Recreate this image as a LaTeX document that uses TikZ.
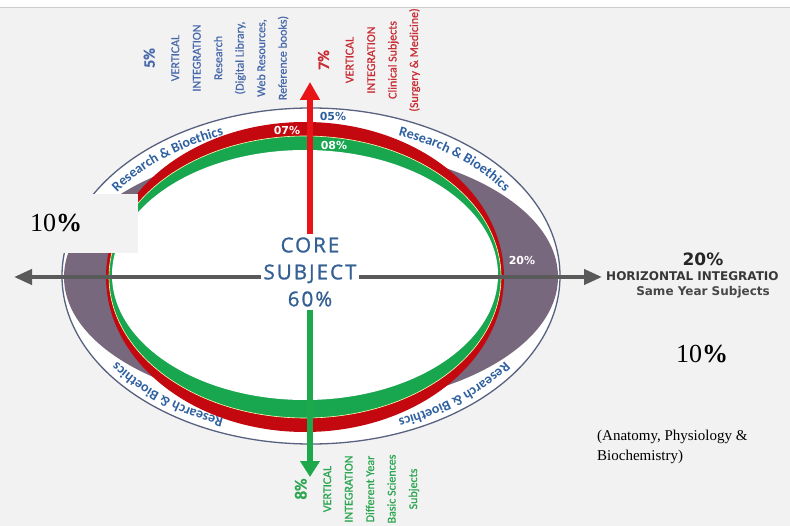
\documentclass[tikz,border=0pt]{standalone}
\usepackage{fontspec}
\setmainfont{Liberation Serif}
\newfontfamily\calfont{Carlito}
\newfontfamily\labfont[FakeBold=0.6]{Carlito}
\newfontfamily\verfont{DejaVu Sans}
\newfontfamily\corefont[LetterSpace=10, FakeBold=1.3]{Open Sans}
\usetikzlibrary{positioning, arrows.meta, decorations.text}
\definecolor{BgGray}{RGB}{242,242,242}
\definecolor{RimColor}{RGB}{88,98,128}
\definecolor{CrescentColor}{RGB}{120,104,125}
\definecolor{RedRing}{RGB}{196,8,16}
\definecolor{GreenRing}{RGB}{24,166,78}
\definecolor{BandBlue}{RGB}{46,96,160}
\definecolor{CoreBlue}{RGB}{52,96,148}
\definecolor{AxisGray}{RGB}{90,90,90}
\definecolor{RedArrow}{RGB}{232,20,24}
\definecolor{GreenArrow}{RGB}{30,168,76}
\definecolor{LabBlue}{RGB}{72,106,172}
\definecolor{LabRed}{RGB}{200,44,52}
\definecolor{LabGreen}{RGB}{44,166,80}

\newcommand{\bandtext}{\calfont\bfseries\fontsize{14}{14}\selectfont}
\newcommand{\bigpct}{\fontsize{16}{16}\selectfont\bfseries}

\begin{document}
\begin{tikzpicture}[
    x=1pt, y=-1pt,
    vlab/.style={rotate=90, align=center, inner sep=0pt,
        font=\labfont\fontsize{12}{21.5}\selectfont},
    ringpct/.style={font=\verfont\bfseries\fontsize{11}{11}\selectfont, inner sep=0pt},
    corelab/.style={align=center, fill=white, inner sep=3pt, text=CoreBlue,
        font=\corefont\fontsize{20.5}{27}\selectfont},
    bandlabel/.style={decorate, decoration={text along path, text align=center,
        text color=BandBlue, text={|\bandtext|Research {\&} Bioethics}}},
]
\useasboundingbox (0,0) rectangle (790,526);
\fill[BgGray] (0,0) rectangle (790,526);
\fill[white] (0,0) rectangle (790,7);
\draw[black!20, line width=0.8pt] (0,7.5) -- (790,7.5);

% rings
\filldraw[fill=white, draw=RimColor, line width=1.3pt] (311,276) ellipse [x radius=249, y radius=168];
\fill[CrescentColor] (311,277) ellipse [x radius=247, y radius=130];
\fill[RedRing] (305,277) ellipse [x radius=199, y radius=155];
\filldraw[fill=GreenRing, draw=yellow!30, line width=0.6pt] (305,277) ellipse [x radius=196, y radius=141];
\fill[white] (305,275) ellipse [x radius=193, y radius=125];

% Research & Bioethics band
\path[bandlabel] (311,277) ++(206:233 and 153) arc[start angle=206, end angle=254, x radius=233, y radius=153];
\path[bandlabel] (311,277) ++(286:233 and 153) arc[start angle=286, end angle=334, x radius=233, y radius=153];
\path[bandlabel] (311,277) ++(106:233 and 153) arc[start angle=106, end angle=154, x radius=233, y radius=153];
\path[bandlabel] (311,277) ++(26:233 and 153) arc[start angle=26, end angle=74, x radius=233, y radius=153];

% axes
\coordinate (axisL) at (14,277);
\coordinate (axisR) at (602,277);
\coordinate (tipUp) at (310,82);
\coordinate (tipDown) at (310,477);
\draw[AxisGray, line width=4pt, {Triangle[length=18pt,width=15pt]}-{Triangle[length=18pt,width=15pt]}] (axisL) -- (axisR);
\node[corelab] (core) at (310,272) {CORE\\SUBJECT\\60\%};
\draw[RedArrow, line width=5.5pt, -{Triangle[length=18pt,width=19pt]}] (core.north) -- (tipUp);
\draw[GreenArrow, line width=5.5pt, -{Triangle[length=16pt,width=19pt]}] (core.south) -- (tipDown);

% ring shares
\node[ringpct, text=BandBlue] (pct05) at (333,116) {05\%};
\node[ringpct, text=white] (pct07) at (287,130) {07\%};
\node[ringpct, text=white] (pct08) at (334,145) {08\%};
\node[ringpct, text=white] (pct20) at (522,260) {20\%};

% vertical integration labels
\node[vlab, text=LabBlue] (labBlue) at (216,58) {{\bigpct 5\%}\\[3pt]VERTICAL\\INTEGRATION\\Research\\(Digital Library,\\Web Resources,\\Reference books)};
\node[vlab, text=LabRed] (labRed) at (369,60) {{\bigpct 7\%}\\[3pt]VERTICAL\\INTEGRATION\\Clinical Subjects\\(Surgery \& Medicine)};
\node[vlab, text=LabGreen] (labGreen) at (357,489) {{\bigpct\fontsize{17}{17}\selectfont 8\%}\\[3pt]VERTICAL\\INTEGRATION\\Different Year\\Basic Sciences\\Subjects};

% horizontal integration
\node[font=\verfont\bfseries\fontsize{17}{17}\selectfont, text=black!85] (horizPct) at (703,259) {20\%};
\node[font=\verfont\bfseries\fontsize{12}{12}\selectfont, text=black!78, anchor=west, inner sep=0pt] (horizLab) at (606,276) {HORIZONTAL INTEGRATIO};
\node[font=\verfont\bfseries\fontsize{12}{12}\selectfont, text=black!72] (horizSub) at (703,292) {Same Year Subjects};

% extra notes
\node[fill=BgGray, minimum width=129pt, minimum height=59pt, inner sep=0pt] (tenBox) at (73.5,223.5) {};
\node[font=\fontsize{26}{26}\selectfont, anchor=west, inner sep=0pt] (tenLeft) at ([xshift=21pt]tenBox.west) {10\textbf{\%}};
\node[font=\fontsize{26}{26}\selectfont, inner sep=0pt] (tenRight) at (702,354) {10\textbf{\%}};
\node[font=\fontsize{15}{20}\selectfont, align=left, anchor=north west, inner sep=0pt] (anatomy) at (597,430) {(Anatomy, Physiology \&\\Biochemistry)};
\end{tikzpicture}
\end{document}
